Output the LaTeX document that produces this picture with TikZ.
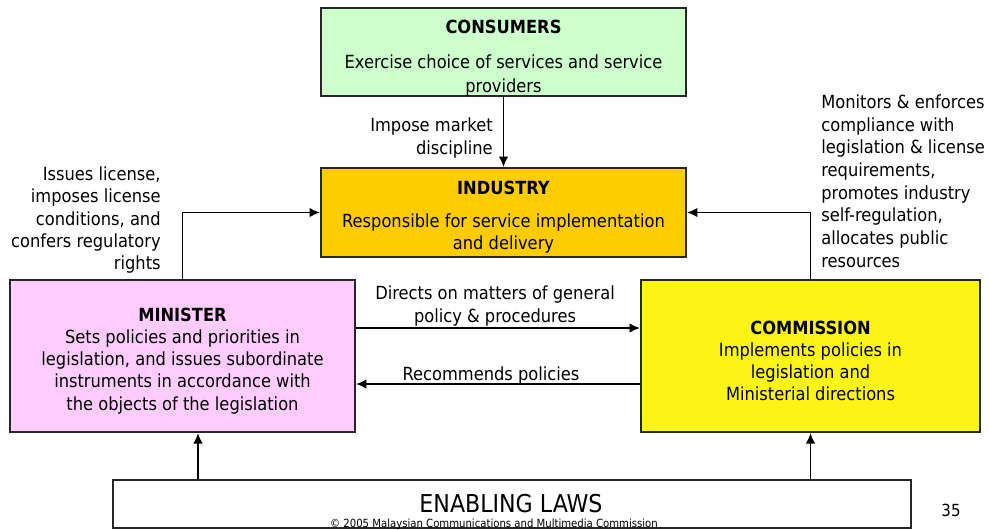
\documentclass[tikz,border=0pt]{standalone}
\usepackage{fontspec}
\setmainfont{DejaVu Sans Condensed}
\usepackage{xcolor}
\usepackage{tikz}
\usetikzlibrary{positioning,arrows.meta,calc}

\definecolor{consgreen}{RGB}{204,255,204}
\definecolor{indorange}{RGB}{255,204,0}
\definecolor{minpink}{RGB}{255,204,255}
\definecolor{comyellow}{RGB}{252,244,20}

\begin{document}
\begin{tikzpicture}[
    x=0.02cm, y=-0.02cm,
    box/.style={rectangle, draw=black!85, line width=1.1pt, inner sep=0pt},
    arrow/.style={-{Latex[length=6pt,width=5.5pt]}, line width=1.1pt},
    note/.style={inner sep=0pt, font=\fontsize{10.3}{12.6}\selectfont}
]
\useasboundingbox (0,0) rectangle (989,529);

% Actors
\node[box, fill=consgreen, minimum width=7.30cm, minimum height=1.76cm] (consumers) at (503.5,52) {};
\node[box, fill=indorange, minimum width=7.30cm, minimum height=1.78cm] (industry) at (503.5,212.5) {};
\node[box, fill=minpink, minimum width=6.90cm, minimum height=3.04cm] (minister) at (182.5,356) {};
\node[box, fill=comyellow, minimum width=6.78cm, minimum height=3.04cm] (commission) at (810.5,356) {};

% Actor texts
\node[note, align=center] (consumerstxt) at ($(consumers)+(0,6)$)
    {\textbf{CONSUMERS}\\[7pt] Exercise choice of services and service\\[1pt] providers};
\node[note, align=center] (industrytxt) at ($(industry)+(0,5)$)
    {\textbf{INDUSTRY}\\[6pt] Responsible for service implementation\\ and delivery};
\node[note, align=center] (ministertxt) at ($(minister)+(0,5)$)
    {\textbf{MINISTER}\\ Sets policies and priorities in\\ legislation, and issues subordinate\\ instruments in accordance with\\ the objects of the legislation};
\node[note, align=center] (commissiontxt) at ($(commission)+(0,5)$)
    {\textbf{COMMISSION}\\ Implements policies in\\ legislation and\\ Ministerial directions};

% Legal base
\node[box, fill=white, minimum width=15.96cm, minimum height=0.96cm] (laws) at (512,504) {};
\node[note, font=\fontsize{14}{14}\selectfont] (lawstitle) at (511,504) {ENABLING LAWS};
\node[note, font=\fontsize{6.4}{7}\selectfont] (copyright) at (494,524) {\textcopyright\ 2005 Malaysian Communications and Multimedia Commission};
\node[note, font=\fontsize{9.5}{10}\selectfont] (pagenum) at (951,510) {35};

% Arrows
\coordinate (lawsmin) at ($(minister.south)+(15.5,0)$);
\draw[arrow] (consumers.south) -- (industry.north);
\draw[arrow] (minister.north) |- (industry.west);
\draw[arrow] (commission.north) |- (industry.east);
\draw[arrow] ($(minister.east)+(0,-28)$) -- ($(commission.west)+(0,-28)$);
\draw[arrow] ($(commission.west)+(0,28)$) -- ($(minister.east)+(0,28)$);
\draw[arrow] (laws.north -| lawsmin) -- (lawsmin);
\draw[arrow] (laws.north -| commission.south) -- (commission.south);

% Labels
\node[note, anchor=east, align=right] (marketlbl) at (493,138) {Impose market\\ discipline};
\node[note, anchor=east, align=right] (licencelbl) at (161,220) {Issues license,\\ imposes license\\ conditions, and\\ confers regulatory\\ rights};
\node[note, anchor=west, align=left, font=\fontsize{10.3}{12.9}\selectfont] (enforcelbl) at (821,181) {Monitors \& enforces\\ compliance with\\ legislation \& license\\ requirements,\\ promotes industry\\ self-regulation,\\ allocates public\\ resources};
\node[note, align=center] (directslbl) at (495,306) {Directs on matters of general\\ policy \& procedures};
\node[note] (recommendlbl) at (491,375) {Recommends policies};

\end{tikzpicture}
\end{document}
